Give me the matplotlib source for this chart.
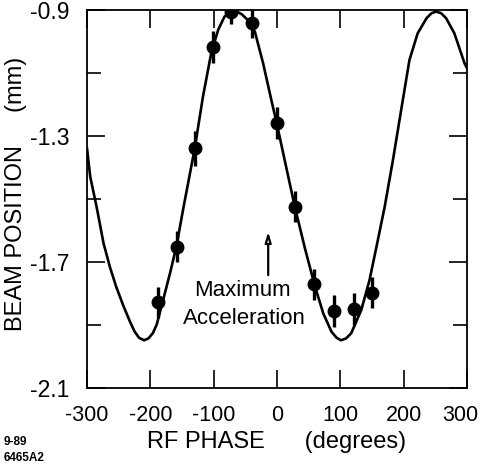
import numpy as np
import matplotlib
matplotlib.use('Agg')
import matplotlib.pyplot as plt
import matplotlib.transforms as mtransforms
from matplotlib.ticker import FixedLocator

plt.rcParams['font.family'] = ['Liberation Sans', 'DejaVu Sans']

# ── Measured points (RF phase in degrees, beam position in mm) ────────────────
phase_pts = [-188, -158, -130, -101, -73, -40, 0, 28, 58, 90, 121, 150]
pos_pts = [-1.828, -1.651, -1.339, -1.018, -0.905, -0.940,
           -1.258, -1.524, -1.771, -1.855, -1.848, -1.797]
pos_err = [0.05, 0.05, 0.055, 0.05, 0.04, 0.05,
           0.05, 0.05, 0.05, 0.05, 0.05, 0.05]

# ── Fitted curve ──────────────────────────────────────────────────────────────
curve_phase = [-300, -295, -285, -274, -264, -254, -243, -232, -225, -218,
               -210, -203, -196, -190, -180, -169, -159, -148, -130, -117,
               -104, -93, -83, -76, -69, -62, -56, -46, -35, -22,
               -9, -1, 12, 28, 44, 60, 73, 86, 94, 101,
               109, 117, 133, 146, 157, 170, 183, 196, 209, 222,
               236, 244, 251, 259, 267, 280, 296, 300]
curve_pos = [-1.34, -1.429, -1.524, -1.640, -1.715, -1.778, -1.837, -1.890, -1.920, -1.940,
             -1.948, -1.942, -1.925, -1.898, -1.821, -1.735, -1.651, -1.529, -1.339, -1.175,
             -1.037, -0.963, -0.921, -0.909, -0.905, -0.907, -0.913, -0.932, -0.969, -1.069,
             -1.186, -1.255, -1.376, -1.524, -1.656, -1.778, -1.863, -1.921, -1.940, -1.948,
             -1.942, -1.926, -1.852, -1.757, -1.651, -1.524, -1.376, -1.217, -1.059, -0.974,
             -0.926, -0.910, -0.905, -0.910, -0.926, -0.974, -1.069, -1.085]

xticks = [-300, -200, -100, 0, 100, 200, 300]
yticks_major = [-0.9, -1.3, -1.7, -2.1]
yticks_minor = [-1.1, -1.5, -1.9]

fig = plt.figure(figsize=(4.81, 4.66), dpi=100)
fig.patch.set_facecolor('white')
ax = fig.add_axes([0.181, 0.167, 0.790, 0.8115])

ax.plot(curve_phase, curve_pos, color='black', lw=1.9, zorder=2,
        solid_joinstyle='round')
ax.errorbar(phase_pts, pos_pts, yerr=pos_err, fmt='o', color='black',
            ms=9, elinewidth=2.4, capsize=0, zorder=3)

ax.annotate('', xy=(-14, -1.595), xytext=(-14, -1.75),
            arrowprops=dict(arrowstyle='-|>,head_width=0.18,head_length=0.6',
                            color='black', lw=1.6, fc='white'))
ax.text(-55, -1.789, 'Maximum', ha='center', va='center', fontsize=16)
ax.text(-52, -1.878, 'Acceleration', ha='center', va='center', fontsize=16)

ax.set_xlim(-300, 300)
ax.set_ylim(-2.1, -0.9)
ax.set_xticks(xticks)
ax.set_xticklabels([str(t) for t in xticks])
ax.yaxis.set_major_locator(FixedLocator(yticks_major))
ax.yaxis.set_minor_locator(FixedLocator(yticks_minor))
ax.set_yticklabels([f'{t:.1f}' for t in yticks_major])

ax.tick_params(axis='both', which='major', direction='in', length=13, width=1.2,
               top=True, right=True)
ax.tick_params(axis='x', which='major', labelsize=15.5, pad=12)
ax.tick_params(axis='y', which='major', labelsize=16.5, pad=13)
ax.tick_params(axis='y', which='minor', direction='in', length=10, width=1.2,
               left=True, right=True)
for s in ax.spines.values():
    s.set_linewidth(1.3)

# nudge the last x tick label left so it stays inside the figure
last = ax.get_xticklabels()[-1]
last.set_transform(last.get_transform() +
                   mtransforms.ScaledTranslation(-5 / 72, 0, fig.dpi_scale_trans))

ax.set_xlabel('RF PHASE      (degrees)', fontsize=17, labelpad=4)
ax.set_ylabel('BEAM POSITION     (mm)', fontsize=17)
ax.yaxis.set_label_coords(-0.158, 0.515)

fig.text(0.008, 0.045, '9-89', fontsize=8.5, fontweight='bold')
fig.text(0.008, 0.010, '6465A2', fontsize=8.5, fontweight='bold')

fig.savefig('out.png', dpi=100)
